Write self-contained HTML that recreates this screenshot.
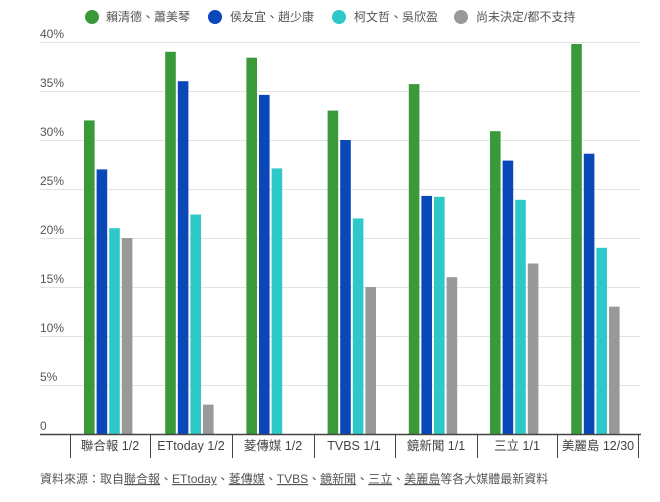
<!DOCTYPE html>
<html><head><meta charset="utf-8"><style>
body{margin:0;background:#fff;}
svg{display:block;font-family:"Liberation Sans","Noto Sans CJK TC",sans-serif;}
</style></head><body>
<svg width="660" height="502" viewBox="0 0 660 502" xmlns="http://www.w3.org/2000/svg">
<g font-size="12" fill="#555">
<circle cx="92" cy="17" r="7" fill="#3a9a3a"/><text x="106" y="21">賴清德、蕭美琴</text>
<circle cx="215" cy="17" r="7" fill="#0a47b8"/><text x="230" y="21">侯友宜、趙少康</text>
<circle cx="339" cy="17" r="7" fill="#2ec8c8"/><text x="354" y="21">柯文哲、吳欣盈</text>
<circle cx="461" cy="17" r="7" fill="#999"/><text x="476" y="21">尚未決定/都不支持</text>
</g>
<g stroke="#e3e3e3" stroke-width="1">
<line x1="40" x2="640" y1="42.5" y2="42.5"/><line x1="40" x2="640" y1="91.5" y2="91.5"/>
<line x1="40" x2="640" y1="140.5" y2="140.5"/><line x1="40" x2="640" y1="189.5" y2="189.5"/>
<line x1="40" x2="640" y1="238.5" y2="238.5"/><line x1="40" x2="640" y1="287.5" y2="287.5"/>
<line x1="40" x2="640" y1="336.5" y2="336.5"/><line x1="40" x2="640" y1="385.5" y2="385.5"/>
</g>
<g font-size="12" fill="#555">
<text x="40" y="38">40%</text><text x="40" y="87">35%</text><text x="40" y="136">30%</text>
<text x="40" y="185">25%</text><text x="40" y="234">20%</text><text x="40" y="283">15%</text>
<text x="40" y="332">10%</text><text x="40" y="381">5%</text><text x="40" y="430">0</text>
</g>
<g>
<rect x="84" y="120.4" width="10.6" height="313.6" fill="#3a9a3a"/>
<rect x="96.6" y="169.4" width="10.6" height="264.6" fill="#0a47b8"/>
<rect x="109.2" y="228.2" width="10.6" height="205.8" fill="#2ec8c8"/>
<rect x="121.8" y="238" width="10.6" height="196" fill="#999"/>
<rect x="165.2" y="51.8" width="10.6" height="382.2" fill="#3a9a3a"/>
<rect x="177.8" y="81.2" width="10.6" height="352.8" fill="#0a47b8"/>
<rect x="190.4" y="214.5" width="10.6" height="219.5" fill="#2ec8c8"/>
<rect x="203" y="404.6" width="10.6" height="29.4" fill="#999"/>
<rect x="246.4" y="57.7" width="10.6" height="376.3" fill="#3a9a3a"/>
<rect x="259" y="94.9" width="10.6" height="339.1" fill="#0a47b8"/>
<rect x="271.6" y="168.4" width="10.6" height="265.6" fill="#2ec8c8"/>
<rect x="327.6" y="110.6" width="10.6" height="323.4" fill="#3a9a3a"/>
<rect x="340.2" y="140" width="10.6" height="294" fill="#0a47b8"/>
<rect x="352.8" y="218.4" width="10.6" height="215.6" fill="#2ec8c8"/>
<rect x="365.4" y="287" width="10.6" height="147" fill="#999"/>
<rect x="408.8" y="84.1" width="10.6" height="349.9" fill="#3a9a3a"/>
<rect x="421.4" y="195.9" width="10.6" height="238.1" fill="#0a47b8"/>
<rect x="434" y="196.8" width="10.6" height="237.2" fill="#2ec8c8"/>
<rect x="446.6" y="277.2" width="10.6" height="156.8" fill="#999"/>
<rect x="490" y="131.2" width="10.6" height="302.8" fill="#3a9a3a"/>
<rect x="502.6" y="160.6" width="10.6" height="273.4" fill="#0a47b8"/>
<rect x="515.2" y="199.8" width="10.6" height="234.2" fill="#2ec8c8"/>
<rect x="527.8" y="263.5" width="10.6" height="170.5" fill="#999"/>
<rect x="571.2" y="44" width="10.6" height="390" fill="#3a9a3a"/>
<rect x="583.8" y="153.7" width="10.6" height="280.3" fill="#0a47b8"/>
<rect x="596.4" y="247.8" width="10.6" height="186.2" fill="#2ec8c8"/>
<rect x="609" y="306.6" width="10.6" height="127.4" fill="#999"/>
</g>
<line x1="40" x2="641" y1="434.5" y2="434.5" stroke="#444" stroke-width="1.5"/>
<g stroke="#444" stroke-width="1">
<line x1="70.5" x2="70.5" y1="434" y2="458"/><line x1="150.5" x2="150.5" y1="434" y2="458"/>
<line x1="232.5" x2="232.5" y1="434" y2="458"/><line x1="314.5" x2="314.5" y1="434" y2="458"/>
<line x1="395.5" x2="395.5" y1="434" y2="458"/><line x1="477.5" x2="477.5" y1="434" y2="458"/>
<line x1="557.5" x2="557.5" y1="434" y2="458"/><line x1="638.5" x2="638.5" y1="434" y2="458"/>
</g>
<g font-size="12.5" fill="#444" text-anchor="middle">
<text x="110" y="450">聯合報 1/2</text><text x="191" y="450">ETtoday 1/2</text>
<text x="273" y="450">菱傳媒 1/2</text><text x="354" y="450">TVBS 1/1</text>
<text x="436" y="450">鏡新聞 1/1</text><text x="517" y="450">三立 1/1</text>
<text x="598" y="450">美麗島 12/30</text>
</g>
<text x="40" y="483" font-size="12" fill="#555">資料來源：取自<tspan text-decoration="underline">聯合報</tspan>、<tspan text-decoration="underline">ETtoday</tspan>、<tspan text-decoration="underline">菱傳媒</tspan>、<tspan text-decoration="underline">TVBS</tspan>、<tspan text-decoration="underline">鏡新聞</tspan>、<tspan text-decoration="underline">三立</tspan>、<tspan text-decoration="underline">美麗島</tspan>等各大媒體最新資料</text>
</svg>
</body></html>
